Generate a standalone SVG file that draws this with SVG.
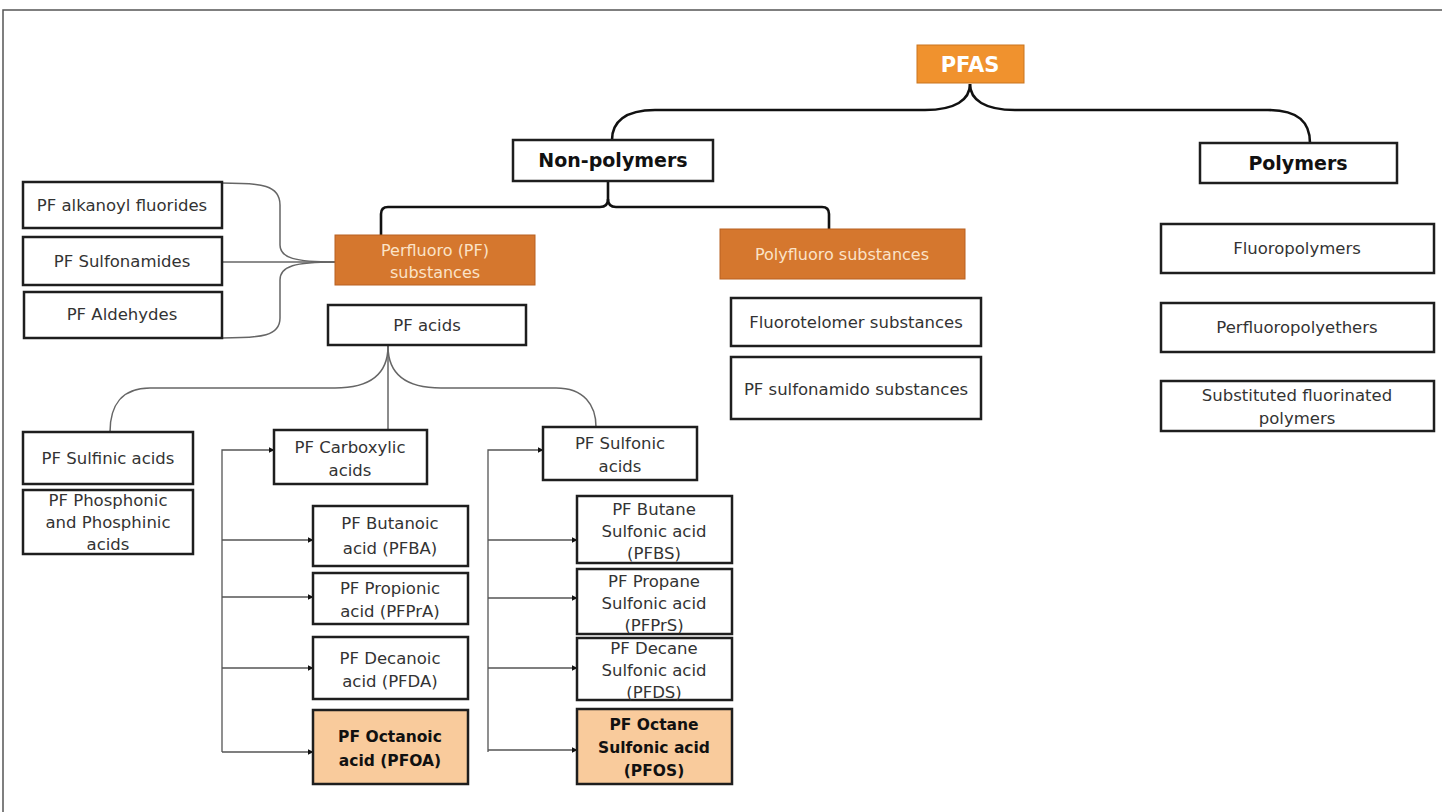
<svg xmlns="http://www.w3.org/2000/svg" width="1442" height="812" viewBox="0 0 1442 812">
<defs>
<style>
.bx{fill:#fff;stroke:#1e1e1e;stroke-width:2.5}
.pfas{fill:#F0922E;stroke:#c9741f;stroke-width:1}
.org{fill:#D5772E;stroke:#b86020;stroke-width:1}
.peach{fill:#F9CB9C;stroke:#1e1e1e;stroke-width:2.5}
.t{font-family:"DejaVu Sans",sans-serif;font-size:16.5px;fill:#333;text-anchor:middle}
.tb{font-family:"DejaVu Sans",sans-serif;font-size:19px;font-weight:bold;fill:#111;text-anchor:middle}
.tw{font-family:"DejaVu Sans",sans-serif;font-size:16px;fill:#FBE3C8;text-anchor:middle}
.tbs{font-family:"DejaVu Sans",sans-serif;font-size:15.5px;font-weight:bold;fill:#111;text-anchor:middle}
.k{fill:none;stroke:#111;stroke-width:2.6}
.g{fill:none;stroke:#666;stroke-width:1.5}
.a{fill:none;stroke:#555;stroke-width:1.3;marker-end:url(#ah)}
</style>
<marker id="ah" viewBox="0 0 10 10" refX="9" refY="5" markerWidth="6" markerHeight="6" orient="auto" markerUnits="userSpaceOnUse"><path d="M0 0 L10 5 L0 10 z" fill="#111"/></marker>
</defs>
<rect width="1442" height="812" fill="#fff"/>
<path d="M3 812 L3 10 L1442 10" fill="none" stroke="#555" stroke-width="1.5"/>

<g id="connectors">
<path class="k" d="M970 84 C970 100 955 110 925 110 L655 110 C625 110 612 122 612 140"/>
<path class="k" d="M970 84 C970 100 985 110 1015 110 L1268 110 C1298 110 1310 122 1310 143"/>
<path class="k" d="M381 235 L381 214 Q381 207 388 207 L600 207 Q608 207 608 199 L608 181"/>
<path class="k" d="M829 229 L829 214 Q829 207 822 207 L616 207 Q608 207 608 199"/>
<path class="g" d="M222 183 C262 183 280 185 280 205 L280 245 C280 258 295 262 335 262"/>
<path class="g" d="M222 338 C262 338 280 336 280 318 L280 280 C280 266 295 262 335 262"/>
<path class="g" d="M222 262 L335 262"/>
<path class="g" d="M388 346 L388 430"/>
<path class="g" d="M388 346 C388 372 372 388 335 388 L150 388 C122 388 110 405 110 432"/>
<path class="g" d="M388 346 C388 372 404 388 441 388 L556 388 C584 388 596 405 596 427"/>
<path class="a" d="M222 752 L222 450 L274 450"/>
<path class="a" d="M222 540 L313 540"/>
<path class="a" d="M222 597 L313 597"/>
<path class="a" d="M222 668 L313 668"/>
<path class="a" d="M222 752 L313 752"/>
<path class="a" d="M488 752 L488 450 L543 450"/>
<path class="a" d="M488 540 L577 540"/>
<path class="a" d="M488 598 L577 598"/>
<path class="a" d="M488 668 L577 668"/>
<path class="a" d="M488 750 L577 750"/>
</g>

<g id="pfas"><rect class="pfas" x="917" y="45" width="107" height="38"/><text x="970" y="72" style="font-family:'DejaVu Sans',sans-serif;font-size:21px;font-weight:bold;fill:#fff;text-anchor:middle">PFAS</text></g>
<g id="nonpolymers"><rect class="bx" x="513" y="140" width="200" height="41"/><text class="tb" x="613" y="167">Non-polymers</text></g>
<g id="polymers"><rect class="bx" x="1200" y="143" width="197" height="40"/><text class="tb" x="1298" y="170">Polymers</text></g>

<g id="perfluoro"><rect class="org" x="335" y="235" width="200" height="50"/><text class="tw" x="435" y="256">Perfluoro (PF)</text><text class="tw" x="435" y="278">substances</text></g>
<g id="polyfluoro"><rect class="org" x="720" y="229" width="245" height="50"/><text class="tw" x="842" y="260">Polyfluoro substances</text></g>

<g id="alkanoyl"><rect class="bx" x="23" y="182" width="199" height="46"/><text class="t" x="122" y="211">PF alkanoyl fluorides</text></g>
<g id="sulfonamides"><rect class="bx" x="23" y="237" width="199" height="48"/><text class="t" x="122" y="267">PF Sulfonamides</text></g>
<g id="aldehydes"><rect class="bx" x="24" y="292" width="198" height="46"/><text class="t" x="122" y="320">PF Aldehydes</text></g>

<g id="pfacids"><rect class="bx" x="328" y="305" width="198" height="40"/><text class="t" x="427" y="331">PF acids</text></g>

<g id="fluorotelomer"><rect class="bx" x="731" y="298" width="250" height="48"/><text class="t" x="856" y="328">Fluorotelomer substances</text></g>
<g id="sulfonamido"><rect class="bx" x="731" y="357" width="250" height="62"/><text class="t" x="856" y="395">PF sulfonamido substances</text></g>

<g id="fluoropolymers"><rect class="bx" x="1161" y="224" width="273" height="49"/><text class="t" x="1297" y="254">Fluoropolymers</text></g>
<g id="perfluoropolyethers"><rect class="bx" x="1161" y="303" width="273" height="49"/><text class="t" x="1297" y="333">Perfluoropolyethers</text></g>
<g id="substituted"><rect class="bx" x="1161" y="381" width="273" height="50"/><text class="t" x="1297" y="401">Substituted fluorinated</text><text class="t" x="1297" y="424">polymers</text></g>

<g id="sulfinic"><rect class="bx" x="23" y="432" width="170" height="52"/><text class="t" x="108" y="464">PF Sulfinic acids</text></g>
<g id="phosphonic"><rect class="bx" x="23" y="490" width="170" height="64"/><text class="t" x="108" y="506">PF Phosphonic</text><text class="t" x="108" y="528">and Phosphinic</text><text class="t" x="108" y="550">acids</text></g>

<g id="carboxylic"><rect class="bx" x="274" y="430" width="153" height="54"/><text class="t" x="350" y="453">PF Carboxylic</text><text class="t" x="350" y="476">acids</text></g>
<g id="pfba"><rect class="bx" x="313" y="506" width="155" height="60"/><text class="t" x="390" y="529">PF Butanoic</text><text class="t" x="390" y="554">acid (PFBA)</text></g>
<g id="pfpra"><rect class="bx" x="313" y="573" width="155" height="51"/><text class="t" x="390" y="594">PF Propionic</text><text class="t" x="390" y="617">acid (PFPrA)</text></g>
<g id="pfda"><rect class="bx" x="313" y="637" width="155" height="62"/><text class="t" x="390" y="664">PF Decanoic</text><text class="t" x="390" y="687">acid (PFDA)</text></g>
<g id="pfoa"><rect class="peach" x="313" y="710" width="155" height="74"/><text class="tbs" x="390" y="742">PF Octanoic</text><text class="tbs" x="390" y="766">acid (PFOA)</text></g>

<g id="sulfonic"><rect class="bx" x="543" y="427" width="154" height="53"/><text class="t" x="620" y="449">PF Sulfonic</text><text class="t" x="620" y="472">acids</text></g>
<g id="pfbs"><rect class="bx" x="577" y="496" width="155" height="67"/><text class="t" x="654" y="515">PF Butane</text><text class="t" x="654" y="537">Sulfonic acid</text><text class="t" x="654" y="559">(PFBS)</text></g>
<g id="pfprs"><rect class="bx" x="577" y="569" width="155" height="65"/><text class="t" x="654" y="587">PF Propane</text><text class="t" x="654" y="609">Sulfonic acid</text><text class="t" x="654" y="631">(PFPrS)</text></g>
<g id="pfds"><rect class="bx" x="577" y="638" width="155" height="62"/><text class="t" x="654" y="654">PF Decane</text><text class="t" x="654" y="676">Sulfonic acid</text><text class="t" x="654" y="698">(PFDS)</text></g>
<g id="pfos"><rect class="peach" x="577" y="709" width="155" height="75"/><text class="tbs" x="654" y="730">PF Octane</text><text class="tbs" x="654" y="753">Sulfonic acid</text><text class="tbs" x="654" y="776">(PFOS)</text></g>
</svg>
